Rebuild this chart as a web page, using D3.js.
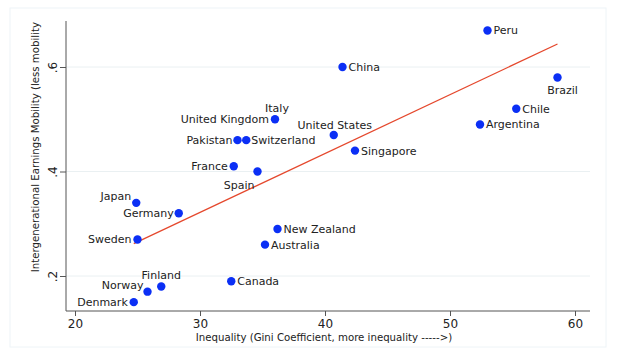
<!DOCTYPE html>
<html><head><meta charset="utf-8">
<script src="https://cdn.jsdelivr.net/npm/d3@7"></script>
<style>body{margin:0;background:#fff}svg{display:block}text{font-family:"DejaVu Sans",Verdana,sans-serif}</style>
</head><body><svg id="c" width="640" height="360"></svg>
<script>
const countries = ["Peru","Brazil","Chile","Argentina","China","United States","Singapore","Italy","United Kingdom","Pakistan","Switzerland","France","Spain","Japan","Germany","Sweden","New Zealand","Australia","Canada","Finland","Norway","Denmark"];
const gini = [53.0,58.6,55.3,52.4,41.4,40.7,42.4,36.0,36.0,33.0,33.7,32.7,34.6,24.9,28.3,25.0,36.2,35.2,32.5,26.9,25.8,24.7];
const mobility = [0.67,0.58,0.52,0.49,0.60,0.47,0.44,0.50,0.50,0.46,0.46,0.41,0.40,0.34,0.32,0.27,0.29,0.26,0.19,0.18,0.17,0.15];
const fitX = [24.7, 58.6];
const fitY = [0.262, 0.644];
const xTicks = [20,30,40,50,60];
const yTicks = [0.2,0.4,0.6];
const yTickLabels = [".2",".4",".6"];

const svg = d3.select("#c");
const L=66, R=590, T=21, B=311;
const x = d3.scaleLinear().domain([20,60]).range([75,575]);
const y = d3.scaleLinear().domain([0.2,0.6]).range([276,67]);

// faint outer frame
svg.append("rect").attr("x",10).attr("y",8).attr("width",596).attr("height",339)
  .attr("fill","none").attr("stroke","#eef4f7").attr("stroke-width",1);

// gridlines
svg.append("g").selectAll("line").data(yTicks).join("line")
  .attr("x1",L).attr("x2",R).attr("y1",d=>y(d)).attr("y2",d=>y(d))
  .attr("stroke","#eaf0f2").attr("stroke-width",1);

// axes
const yAxis = svg.append("g").attr("transform",`translate(${L},0)`)
  .call(d3.axisLeft(y).tickValues(yTicks).tickSize(6).tickFormat((d,i)=>yTickLabels[i]));
yAxis.select(".domain").remove();
yAxis.append("line").attr("x1",0).attr("x2",0).attr("y1",T).attr("y2",B).attr("stroke","#555");
yAxis.selectAll(".tick line").attr("stroke","#555");
yAxis.selectAll(".tick text").attr("font-size",12).attr("fill","#222")
  .attr("transform","rotate(-90)").attr("x",0).attr("y",-9).attr("dy",0).attr("text-anchor","middle");

const xAxis = svg.append("g").attr("transform",`translate(0,${B})`)
  .call(d3.axisBottom(x).tickValues(xTicks).tickSize(5));
xAxis.select(".domain").remove();
xAxis.append("line").attr("x1",L).attr("x2",R).attr("y1",0).attr("y2",0).attr("stroke","#555");
xAxis.selectAll(".tick line").attr("stroke","#555");
xAxis.selectAll(".tick text").attr("font-size",12).attr("fill","#222").attr("y",8);

// axis titles
svg.append("text").attr("x",(190+458)/2).attr("y",341).attr("text-anchor","middle")
  .attr("font-size",10.2).attr("fill","#222").text("Inequality (Gini Coefficient, more inequality ----->)");
svg.append("text").attr("transform","translate(39,22) rotate(-90)").attr("text-anchor","end")
  .attr("font-size",10.2).attr("fill","#222").text("Intergenerational Earnings Mobility (less mobility");

// fit line
svg.append("line").attr("x1",x(fitX[0])).attr("y1",y(fitY[0])).attr("x2",x(fitX[1])).attr("y2",y(fitY[1]))
  .attr("stroke","#e5482d").attr("stroke-width",1.3);

// points
const pts = countries.map((c,i)=>({c, gx:gini[i], m:mobility[i]}));
svg.append("g").selectAll("circle").data(pts.filter(p=>p.c!=="United Kingdom")).join("circle")
  .attr("cx",d=>x(d.gx)).attr("cy",d=>y(d.m)).attr("r",4.2).attr("fill","#0b2ff5");

// label placement: [anchor, dx, dy]
const pos = {
  "Peru":["start",6,4],"Brazil":["middle",5,17],"Chile":["start",6,4],"Argentina":["start",6,4],
  "China":["start",6,4],"United States":["middle",1,-6],"Singapore":["start",6,4],
  "Italy":["middle",2,-7],"United Kingdom":["end",-6,4],"Pakistan":["end",-5,4],"Switzerland":["start",5,4],
  "France":["end",-6,4],"Spain":["end",-3,17],"Japan":["end",-5,-3],"Germany":["end",-5,4],
  "Sweden":["end",-6,4],"New Zealand":["start",6,4],"Australia":["start",6,4],"Canada":["start",6,4],
  "Finland":["middle",0,-7],"Norway":["end",-4,-3],"Denmark":["end",-6,4]
};
svg.append("g").selectAll("text").data(pts).join("text")
  .attr("x",d=>x(d.gx)+pos[d.c][1]).attr("y",d=>y(d.m)+pos[d.c][2])
  .attr("text-anchor",d=>pos[d.c][0]).attr("font-size",11).attr("fill","#222").text(d=>d.c);
</script></body></html>
